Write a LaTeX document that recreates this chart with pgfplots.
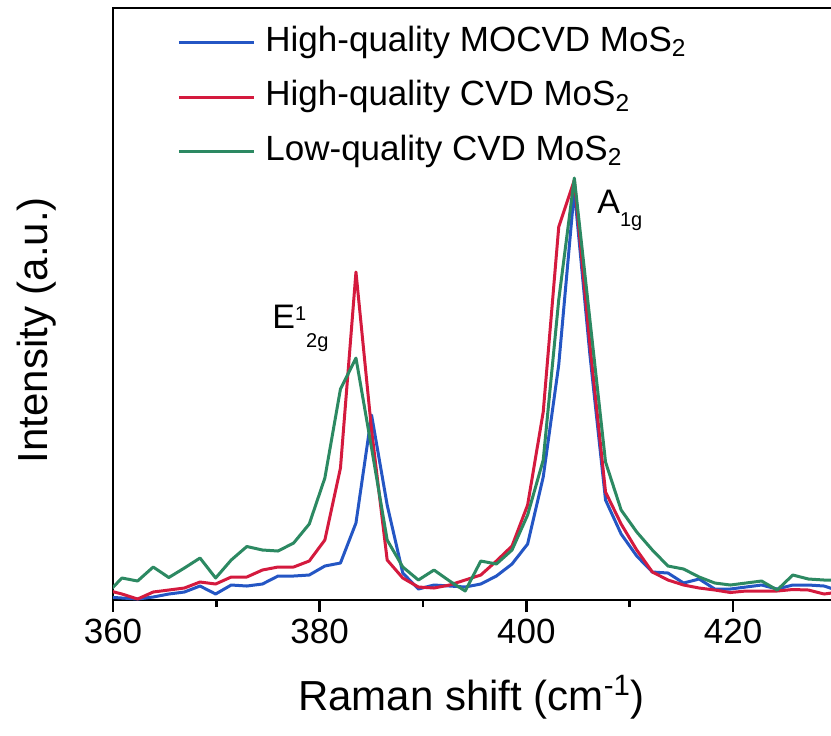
\documentclass[border=0pt]{standalone}
\usepackage{fontspec}
\setmainfont{Liberation Sans}
\usepackage{pgfplots}
\pgfplotsset{compat=1.18}

\definecolor{cblue}{RGB}{36,86,196}
\definecolor{cred}{RGB}{212,26,62}
\definecolor{cgreen}{RGB}{44,137,98}

\begin{document}
\begin{tikzpicture}
\begin{axis}[
  name=ax,
  scale only axis,
  width=361.7pt, height=296pt,
  xmin=360, xmax=430, ymin=0, ymax=592,
  axis line style={line width=1.4pt},
  xtick={360,380,400,420},
  minor x tick num=1,
  xtick pos=bottom,
  ytick=\empty,
  tick align=outside,
  major tick length=6pt,
  minor tick length=3.5pt,
  every tick/.style={black, line width=1.4pt},
  /pgf/number format/assume math mode=true,
  xticklabel style={font=\fontsize{17.5}{20}\selectfont},
  xlabel={Raman shift (cm\textsuperscript{-1})},
  ylabel={Intensity (a.u.)},
  label style={font=\fontsize{21}{25}\selectfont},
  xlabel style={at={(axis description cs:0.4956,-0.164)}, anchor=center},
  ylabel style={at={(axis description cs:-0.105,0.456)}, anchor=center},
  legend cell align=left,
  legend image code/.code={\draw[#1] (0pt,0pt) -- (37.5pt,0pt);},
  legend style={draw=none, fill=none, at={(axis description cs:0.0885,0.9696)},
    anchor=north west, inner sep=0pt, row sep=10.75pt, column sep=5pt,
    font=\fontsize{17.5}{20}\selectfont,
    nodes={inner sep=0pt, text height=12.5pt, text depth=4pt}},
  every axis plot/.append style={line width=1.5pt, line join=round},
]
% High-quality MOCVD MoS2
\addplot[cblue] coordinates {
(359.36,3) (360.87,2) (362.38,1) (363.89,3) (365.40,6) (366.91,8) (368.42,14) (369.93,6)
(371.44,15) (372.95,14) (374.46,16) (375.97,24) (377.48,24) (378.99,25) (380.50,34) (382.01,37)
(383.51,77) (385.02,185) (386.53,95) (388.04,27) (389.55,11) (391.06,15) (392.57,14) (394.08,13)
(395.59,16) (397.10,24) (398.61,36) (400.12,56) (401.63,123) (403.13,235) (404.64,410) (406.15,245)
(407.66,100) (409.17,66) (410.68,44) (412.19,28) (413.70,27) (415.21,17) (416.72,21) (418.23,11)
(419.74,11) (421.25,13) (422.76,15) (424.27,11) (425.78,15) (427.29,15) (428.80,14) (430.31,9)
};
\addlegendentry{High-quality MOCVD MoS\textsubscript{2}}
% High-quality CVD MoS2
\addplot[cred] coordinates {
(359.36,10) (360.87,6) (362.38,1) (363.89,8) (365.40,10) (366.91,12) (368.42,18) (369.93,16)
(371.44,23) (372.95,23) (374.46,30) (375.97,33) (377.48,33) (378.99,39) (380.50,60) (382.01,132)
(383.51,328) (385.02,170) (386.53,40) (388.04,22) (389.55,13) (391.06,12) (392.57,15) (394.08,20)
(395.59,25) (397.10,39) (398.61,54) (400.12,95) (401.63,188) (403.13,373) (404.64,420) (406.15,255)
(407.66,108) (409.17,76) (410.68,50) (412.19,28) (413.70,20) (415.21,15) (416.72,12) (418.23,10)
(419.74,7.5) (421.25,9) (422.76,9) (424.27,9) (425.78,10.5) (427.29,10) (428.80,6) (430.31,8)
};
\addlegendentry{High-quality CVD MoS\textsubscript{2}}
% Low-quality CVD MoS2
\addplot[cgreen] coordinates {
(359.36,6) (360.87,22) (362.38,19) (363.89,33) (365.40,22.5) (366.91,32) (368.42,42) (369.93,22)
(371.44,40) (372.95,53.5) (374.46,50) (375.97,49) (377.48,57) (378.99,76) (380.50,122) (382.01,211)
(383.51,242) (385.02,152) (386.53,60) (388.04,33) (389.55,20) (391.06,30) (392.57,19) (394.08,9)
(395.59,39) (397.10,36) (398.61,50) (400.12,85) (401.63,140) (403.13,300) (404.64,422) (406.15,280)
(407.66,138) (409.17,90) (410.68,68) (412.19,50) (413.70,34) (415.21,31) (416.72,23) (418.23,17)
(419.74,15) (421.25,17) (422.76,19) (424.27,10) (425.78,25) (427.29,21) (428.80,20) (430.31,20)
};
\addlegendentry{Low-quality CVD MoS\textsubscript{2}}

% peak labels
\node[anchor=base west, inner sep=0pt, font=\fontsize{17}{20}\selectfont]
  at (axis cs:375.38,272) {E\raisebox{4pt}{\fontsize{10}{12}\selectfont 1}\raisebox{-9.5pt}{\fontsize{10}{12}\selectfont 2g}};
\node[anchor=base west, inner sep=0pt, font=\fontsize{17}{20}\selectfont]
  at (axis cs:406.83,387) {A\raisebox{-6.5pt}{\fontsize{10}{12}\selectfont 1g}};
\end{axis}
\pgfresetboundingbox
\path ([xshift=-56.5pt,yshift=-67.5pt]ax.south west) rectangle ([xshift=-2.7pt,yshift=4pt]ax.north east);
\end{tikzpicture}
\end{document}
